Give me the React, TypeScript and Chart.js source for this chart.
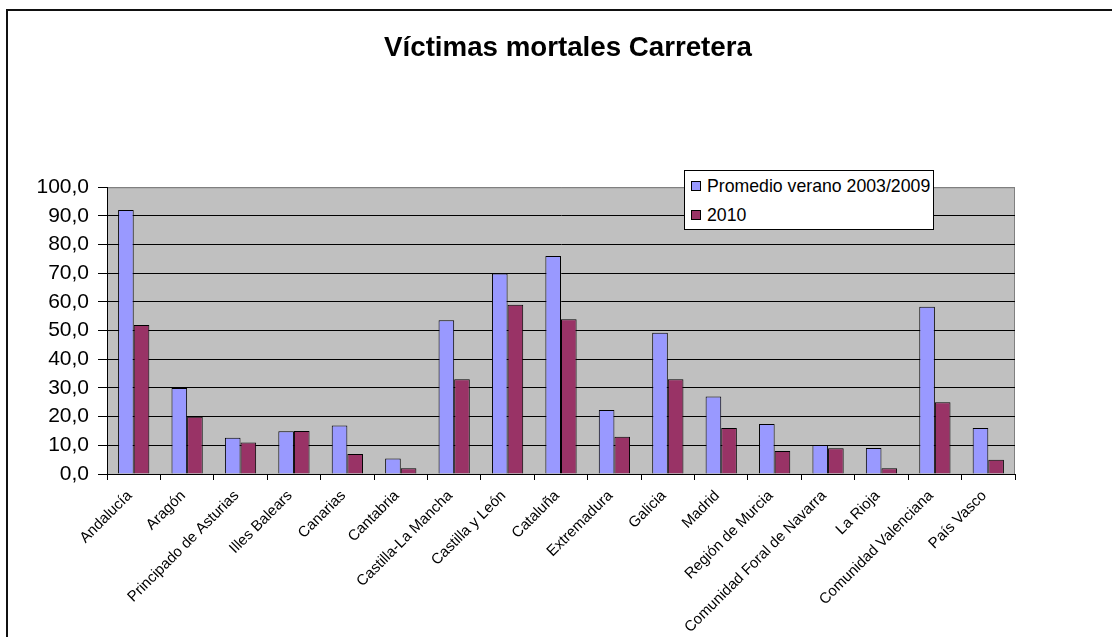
import React, { useEffect, useRef } from "react";
import { Chart, registerables } from "chart.js";

Chart.register(...registerables);

const categories = [
  "Andalucía",
  "Aragón",
  "Principado de Asturias",
  "Illes Balears",
  "Canarias",
  "Cantabria",
  "Castilla-La Mancha",
  "Castilla y León",
  "Cataluña",
  "Extremadura",
  "Galicia",
  "Madrid",
  "Región de Murcia",
  "Comunidad Foral de Navarra",
  "La Rioja",
  "Comunidad Valenciana",
  "País Vasco",
];

const seriesNames = ["Promedio verano 2003/2009", "2010"];
const promedio = [92.1, 30.0, 12.6, 14.9, 16.9, 5.4, 53.6, 69.9, 76.0, 22.3, 49.3, 27.0, 17.4, 10.1, 9.1, 58.3, 16.0];
const valores2010 = [52, 20, 11, 15, 7, 2, 33, 59, 54, 13, 33, 16, 8, 9, 2, 25, 5];
const seriesColors = ["#9999FF", "#993366"];
const yTicks = [0, 10, 20, 30, 40, 50, 60, 70, 80, 90, 100];

const FONT = "'Liberation Sans', Arial, sans-serif";

const plotBg = {
  id: "plotBg",
  beforeDraw(chart: any) {
    const { ctx, chartArea } = chart;
    ctx.save();
    ctx.fillStyle = "#C0C0C0";
    ctx.fillRect(chartArea.left, chartArea.top, chartArea.right - chartArea.left, chartArea.bottom - chartArea.top);
    ctx.strokeStyle = "#808080";
    ctx.lineWidth = 1;
    ctx.beginPath();
    ctx.moveTo(chartArea.left, chartArea.top + 0.5);
    ctx.lineTo(chartArea.right - 0.5, chartArea.top + 0.5);
    ctx.lineTo(chartArea.right - 0.5, chartArea.bottom);
    ctx.stroke();
    ctx.restore();
  },
};

export default function App() {
  const canvasRef = useRef<HTMLCanvasElement | null>(null);

  useEffect(() => {
    const canvas = canvasRef.current;
    if (!canvas) return;
    const chart = new Chart(canvas, {
      type: "bar",
      data: {
        labels: categories,
        datasets: [
          {
            label: seriesNames[0],
            data: promedio,
            backgroundColor: seriesColors[0],
            borderColor: "#000",
            borderWidth: 1,
          },
          {
            label: seriesNames[1],
            data: valores2010,
            backgroundColor: seriesColors[1],
            borderColor: "#000",
            borderWidth: 1,
          },
        ],
      },
      options: {
        responsive: false,
        animation: false,
        layout: { padding: { left: 24, right: 0, top: 0, bottom: 0 } },
        datasets: { bar: { categoryPercentage: 0.585, barPercentage: 1 } },
        plugins: {
          legend: { display: false },
          tooltip: { enabled: false },
          title: {
            display: true,
            text: "Víctimas mortales Carretera",
            color: "#000",
            font: { family: FONT, size: 27.7, weight: "bold" },
            padding: { top: 32, bottom: 122 },
          },
        },
        scales: {
          x: {
            grid: {
              display: true,
              drawOnChartArea: false,
              drawTicks: true,
              tickLength: 6,
              color: "#000",
              offset: true,
            },
            border: { display: true, color: "#000", width: 1 },
            ticks: {
              autoSkip: false,
              minRotation: 45,
              maxRotation: 45,
              color: "#000",
              padding: 7,
              labelOffset: -4,
              font: { family: FONT, size: 15 },
            },
            afterFit(scale: any) {
              scale.height = 163;
            },
          },
          y: {
            min: yTicks[0],
            max: yTicks[yTicks.length - 1],
            afterBuildTicks(scale: any) {
              scale.ticks = yTicks.map((v) => ({ value: v }));
            },
            grid: {
              color: (ctx: any) => (ctx.tick && ctx.tick.value === 100 ? "#808080" : "#000"),
              tickColor: "#000",
              tickLength: 9,
              lineWidth: 1,
            },
            border: { display: true, color: "#000", width: 1 },
            ticks: {
              color: "#000",
              padding: 9,
              font: { family: FONT, size: 21 },
              callback: (v: any) => Number(v).toFixed(1).replace(".", ","),
            },
            afterFit(scale: any) {
              scale.width = 83;
            },
          },
          yRightSpace: {
            type: "linear",
            position: "right",
            display: true,
            grid: { display: false, drawTicks: false },
            border: { display: false },
            ticks: { display: false },
            afterFit(scale: any) {
              scale.width = 97;
            },
          },
        },
      },
      plugins: [plotBg],
    });
    return () => chart.destroy();
  }, []);

  const legendItem = (i: number, top: number) => (
    <div
      key={i}
      style={{
        position: "absolute",
        left: 6,
        top,
        height: 20,
        display: "flex",
        alignItems: "center",
        whiteSpace: "nowrap",
      }}
    >
      <span
        style={{
          display: "inline-block",
          width: 8,
          height: 8,
          background: seriesColors[i],
          border: "1px solid #000",
          marginRight: 6,
        }}
      />
      <span style={{ fontFamily: FONT, fontSize: 17.7, color: "#000", lineHeight: "20px" }}>{seriesNames[i]}</span>
    </div>
  );

  return (
    <div
      style={{
        position: "fixed",
        left: 0,
        top: 0,
        width: 1112,
        height: 637,
        overflow: "hidden",
        background: "#fff",
      }}
    >
      <div
        style={{
          position: "absolute",
          left: 6,
          top: 9,
          width: 2000,
          height: 2000,
          border: "2px solid #111",
        }}
      />
      <canvas ref={canvasRef} width={1112} height={637} style={{ position: "absolute", left: 0, top: 0 }} />
      <div
        style={{
          position: "absolute",
          left: 684,
          top: 170,
          width: 248,
          height: 58,
          border: "1px solid #000",
          background: "#fff",
        }}
      >
        {legendItem(0, 5)}
        {legendItem(1, 34)}
      </div>
    </div>
  );
}
